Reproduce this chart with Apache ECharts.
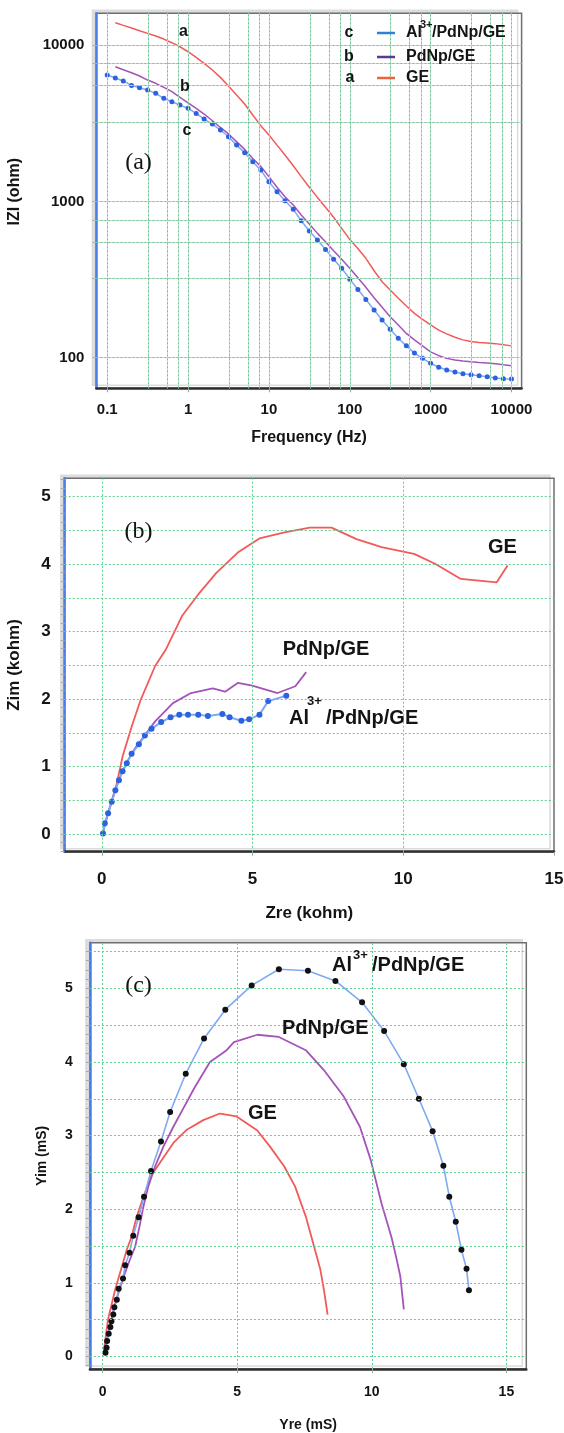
<!DOCTYPE html>
<html>
<head>
<meta charset="utf-8">
<script src="https://cdn.jsdelivr.net/npm/echarts@6/dist/echarts.min.js"></script>
<style>
  html, body { margin: 0; padding: 0; background: #ffffff; }
  #chart { width: 564px; height: 1433px; }
</style>
</head>
<body>
<div id="chart"></div>
<script>
// ---------- (a) Bode magnitude: |Z| vs frequency ----------
const freq = [0.1, 0.126, 0.158, 0.2, 0.251, 0.316, 0.398, 0.501, 0.631, 0.794,
  1, 1.26, 1.58, 2, 2.51, 3.16, 3.98, 5.01, 6.31, 7.94,
  10, 12.6, 15.8, 20, 25.1, 31.6, 39.8, 50.1, 63.1, 79.4,
  100, 126, 158, 200, 251, 316, 398, 501, 631, 794,
  1000, 1260, 1580, 2000, 2510, 3160, 3980, 5010, 6310, 7940, 10000];
const zModAl = [6430, 6150, 5890, 5520, 5330, 5150, 4910, 4560, 4340, 4130,
  3940, 3650, 3360, 3120, 2860, 2590, 2290, 2050, 1790, 1585,
  1335, 1150, 1010, 889, 752, 646, 566, 493, 426, 373,
  318, 273, 236, 202, 174, 152, 133, 119, 107, 99,
  92, 86.8, 83.4, 80.9, 79.0, 77.9, 76.7, 75.5, 74.1, 73.4, 73.1];
const zModPd = [null, 7270, 6950, 6650, 6340, 5970, 5690, 5360, 5030, 4620,
  4270, 3940, 3620, 3280, 2970, 2700, 2410, 2150, 1880, 1670,
  1440, 1230, 1070, 948, 818, 716, 624, 552, 483, 426,
  373, 325, 282, 242, 210, 183, 162, 143, 130, 119,
  109, 103, 99, 96.6, 95.2, 94.2, 93.3, 92.5, 91.6, 90.2, 88.9];
const zModGE = [null, 13900, 13360, 12850, 12350, 11880, 11420, 10920, 10350, 9750,
  9060, 8340, 7630, 6920, 6210, 5470, 4790, 4200, 3570, 3050,
  2660, 2290, 1980, 1690, 1440, 1230, 1060, 916, 791, 672,
  571, 500, 432, 360, 306, 271, 240, 214, 192, 176,
  162, 150, 142, 135, 130, 127, 125, 124, 123, 121, 119];
const freqTicks = [0.1, 1, 10, 100, 1000, 10000];
const zModTicks = [100, 1000, 10000];
const freqGrid = [0.1, 0.32, 0.55, 0.76, 1, 3.2, 5.5, 7.6, 10, 32, 55, 76, 100, 320, 550, 760, 1000, 3200, 5500, 7600, 10000];
const zModGrid = [100, 320, 550, 760, 1000, 3200, 5500, 7600, 10000];

// ---------- (b) Nyquist: Zim vs Zre (kohm) ----------
const zreGE = [0.04, 0.21, 0.45, 0.69, 0.99, 1.29, 1.77, 2.12, 2.66, 3.20, 3.80, 4.51, 5.23, 6.06, 6.90, 7.62, 8.45, 9.28, 10.36, 11.07, 11.91, 13.10, 13.46];
const zimGE = [0.03, 0.31, 0.65, 1.15, 1.59, 1.99, 2.49, 2.73, 3.23, 3.55, 3.87, 4.17, 4.38, 4.47, 4.54, 4.54, 4.37, 4.25, 4.15, 4.00, 3.78, 3.73, 3.98];
const zrePd = [0.03, 0.20, 0.40, 0.60, 0.85, 1.10, 1.40, 1.77, 2.36, 2.96, 3.68, 4.09, 4.51, 4.99, 5.83, 6.42, 6.78];
const zimPd = [0.02, 0.30, 0.60, 0.84, 1.08, 1.27, 1.45, 1.67, 1.94, 2.09, 2.16, 2.11, 2.24, 2.20, 2.09, 2.19, 2.40];
const zreAl = [0.04, 0.10, 0.21, 0.33, 0.45, 0.57, 0.69, 0.83, 0.99, 1.23, 1.43, 1.65, 1.97, 2.28, 2.57, 2.86, 3.20, 3.52, 4.00, 4.24, 4.63, 4.89, 5.23, 5.52, 6.12];
const zimAl = [0.01, 0.16, 0.31, 0.48, 0.65, 0.80, 0.93, 1.05, 1.19, 1.33, 1.46, 1.56, 1.66, 1.73, 1.77, 1.77, 1.77, 1.75, 1.78, 1.73, 1.68, 1.70, 1.77, 1.97, 2.05];
const zreTicks = [0, 5, 10, 15];
const zimTicks = [0, 1, 2, 3, 4, 5];
const zreGrid = [0, 5, 10];
const zimGrid = [0, 0.5, 1, 1.5, 2, 2.5, 3, 3.5, 4, 4.5, 5];

// ---------- (c) Admittance: Yim vs Yre (mS) ----------
const yreGE = [0.04, 0.20, 0.47, 0.70, 0.90, 1.08, 1.27, 1.52, 1.83, 2.20, 2.63, 3.13, 3.74, 4.36, 4.98, 5.75, 6.22, 6.75, 7.15, 7.55, 7.89, 8.09, 8.22, 8.36];
const yimGE = [0.05, 0.50, 0.91, 1.20, 1.45, 1.63, 1.90, 2.17, 2.47, 2.67, 2.90, 3.08, 3.21, 3.30, 3.26, 3.07, 2.85, 2.58, 2.31, 1.90, 1.45, 1.18, 0.91, 0.57];
const yrePd = [0.03, 0.20, 0.45, 0.75, 1.00, 1.21, 1.37, 1.52, 1.70, 1.95, 2.26, 2.63, 3.00, 3.43, 3.99, 4.61, 4.88, 5.75, 6.55, 7.55, 8.22, 8.96, 9.56, 9.96, 10.36, 10.74, 10.90, 11.06, 11.19];
const yimPd = [0.03, 0.30, 0.70, 1.05, 1.30, 1.49, 1.76, 2.04, 2.31, 2.58, 2.85, 3.12, 3.37, 3.66, 4.00, 4.16, 4.27, 4.37, 4.34, 4.16, 3.89, 3.53, 3.12, 2.67, 2.08, 1.61, 1.36, 1.09, 0.64];
const yreAl = [0.11, 0.15, 0.17, 0.23, 0.29, 0.33, 0.40, 0.44, 0.53, 0.60, 0.76, 0.84, 1.00, 1.14, 1.34, 1.54, 1.80, 2.17, 2.51, 3.09, 3.77, 4.56, 5.54, 6.55, 7.63, 8.65, 9.64, 10.46, 11.19, 11.75, 12.26, 12.66, 12.88, 13.12, 13.33, 13.52, 13.61];
const yimAl = [0.05, 0.12, 0.21, 0.31, 0.40, 0.48, 0.57, 0.67, 0.77, 0.92, 1.06, 1.24, 1.41, 1.64, 1.89, 2.17, 2.52, 2.92, 3.32, 3.84, 4.32, 4.71, 5.04, 5.26, 5.24, 5.10, 4.81, 4.42, 3.97, 3.50, 3.06, 2.59, 2.17, 1.83, 1.45, 1.19, 0.90];
const yreTicks = [0, 5, 10, 15];
const yimTicks = [0, 1, 2, 3, 4, 5];
const yreGrid = [0, 5, 10, 15];
const yimGrid = [0, 0.5, 1, 1.5, 2, 2.5, 3, 3.5, 4, 4.5, 5, 5.5];

// ---------- helpers ----------
const FONT = "'Liberation Sans', Arial, sans-serif";
const SERIF = "'Liberation Serif', 'Times New Roman', serif";
const INK = '#141414';
const RED = '#f25a5a', PURPLE = '#a453b8', BLUE_LINE = '#7fa9f2', BLUE_DOT = '#2c62df';

function pairs(xs, ys) {
  const out = [];
  for (let i = 0; i < xs.length; i++) if (ys[i] != null) out.push([xs[i], ys[i]]);
  return out;
}
function steps(from, to, step) {
  const out = [];
  for (let v = from; v <= to + 1e-9; v += step) out.push(+v.toFixed(4));
  return out;
}
function gridLines(idx, xs, ys, style, z) {
  return {
    type: 'line', xAxisIndex: idx, yAxisIndex: idx, data: [], z: z, silent: true,
    markLine: {
      silent: true, symbol: ['none', 'none'], label: { show: false }, animation: false,
      lineStyle: style,
      data: xs.map(v => ({ xAxis: v })).concat(ys.map(v => ({ yAxis: v })))
    }
  };
}
const greenDot = { color: '#5fcf8f', type: [2, 2], width: 1 };
const greySolid = { color: '#d9d9d9', type: 'solid', width: 1 };

function gridBox(left, top, width, height) {
  return {
    left, top, width, height, show: true, backgroundColor: '#ffffff',
    borderColor: '#6e6e6e', borderWidth: 1.5,
    shadowColor: '#dcdcdc', shadowBlur: 0, shadowOffsetX: -4, shadowOffsetY: -3,
    containLabel: false, outerBoundsMode: 'none'
  };
}
function numLabel(v) {
  const n = Number(v);
  return n >= 1 ? String(Math.round(n)) : String(+n.toPrecision(2));
}
function xAxisCfg(idx, opts) {
  return Object.assign({
    gridIndex: idx, type: 'value', nameLocation: 'middle',
    axisLine: { show: true, onZero: false, lineStyle: { color: '#2f2f2f', width: 2.5 } },
    axisTick: { show: true, inside: false, length: 4, lineStyle: { color: '#a0a0a0' } },
    splitLine: { show: false }
  }, opts);
}
function yAxisCfg(idx, opts) {
  return Object.assign({
    gridIndex: idx, type: 'value', nameLocation: 'middle',
    axisLine: { show: true, onZero: false, lineStyle: { color: '#4a7fe8', width: 2.5 } },
    axisTick: { show: true, inside: false, length: 4, lineStyle: { color: '#a0a0a0' } },
    splitLine: { show: false }
  }, opts);
}
function label(size, margin, values) {
  return { customValues: values, fontFamily: FONT, fontWeight: 'bold', fontSize: size, color: INK, margin: margin, formatter: numLabel, showMinLabel: true, showMaxLabel: true };
}
function nameStyle(size) {
  return { fontFamily: FONT, fontWeight: 'bold', fontSize: size, color: INK };
}

// text annotations
function text(x, y, str, font, align) {
  return { type: 'text', x, y, z: 100, silent: true,
    style: { text: str, font: font, fill: INK, align: align || 'center', verticalAlign: 'middle' } };
}
// "Al3+/PdNp/GE" with a raised "3+"
function alLabel(x, y, size, supSize, supX, supY, restX) {
  return [
    text(x, y, 'Al', 'bold ' + size + 'px ' + FONT, 'left'),
    text(supX, supY, '3+', 'bold ' + supSize + 'px ' + FONT, 'left'),
    text(restX, y, '/PdNp/GE', 'bold ' + size + 'px ' + FONT, 'left')
  ];
}
function swatch(x1, x2, y, color) {
  return { type: 'line', z: 100, silent: true, shape: { x1, y1: y, x2, y2: y }, style: { stroke: color, lineWidth: 2.5 } };
}

const chart = echarts.init(document.getElementById('chart'), null, { renderer: 'canvas' });

const option = {
  animation: false,
  backgroundColor: '#ffffff',
  grid: [
    gridBox(96.4, 13.3, 425.2, 375),
    gridBox(64.7, 478.3, 489.3, 373.4),
    gridBox(89.9, 942.7, 436.4, 426.3)
  ],
  xAxis: [
    xAxisCfg(0, { type: 'log', logBase: 10, min: 0.0735, max: 13340,
      name: 'Frequency (Hz)', nameGap: 41, nameTextStyle: nameStyle(16),
      axisTick: { show: true, length: 4, customValues: freqTicks, lineStyle: { color: '#a0a0a0' } },
      axisLabel: label(15, 14, freqTicks) }),
    xAxisCfg(1, { min: -1.23, max: 15,
      name: 'Zre (kohm)', nameGap: 53, nameTextStyle: nameStyle(17),
      axisTick: { show: true, length: 4, customValues: zreTicks, lineStyle: { color: '#a0a0a0' } },
      axisLabel: label(17, 19, zreTicks) }),
    xAxisCfg(2, { min: -0.47, max: 15.74,
      name: 'Yre (mS)', nameGap: 49, nameTextStyle: nameStyle(14),
      axisTick: { show: true, length: 4, customValues: yreTicks, lineStyle: { color: '#a0a0a0' } },
      axisLabel: label(14, 16, yreTicks) })
  ],
  yAxis: [
    yAxisCfg(0, { type: 'log', logBase: 10, min: 63.7, max: 15960,
      name: 'IZI (ohm)', nameGap: 74, nameTextStyle: Object.assign(nameStyle(16), { padding: [0, 0, 0, 18] }),
      axisTick: { show: true, length: 4, customValues: zModGrid, lineStyle: { color: '#b0b0b0' } },
      axisLabel: label(15, 12, zModTicks) }),
    yAxisCfg(1, { min: -0.26, max: 5.27,
      name: 'Zim (kohm)', nameGap: 42, nameTextStyle: nameStyle(17),
      axisTick: { show: true, length: 4, customValues: steps(-0.25, 5.25, 0.125), lineStyle: { color: '#a8a8a8' } },
      axisLabel: label(17, 14, zimTicks) }),
    yAxisCfg(2, { min: -0.17, max: 5.62,
      name: 'Yim (mS)', nameGap: 41, nameTextStyle: nameStyle(14),
      axisTick: { show: true, length: 4, customValues: steps(-0.125, 5.5, 0.125), lineStyle: { color: '#a8a8a8' } },
      axisLabel: label(14, 17, yimTicks) })
  ],
  series: [
    // grid lines
    gridLines(0, freqGrid, zModGrid, greySolid, 1),
    gridLines(0, freqGrid, zModGrid, greenDot, 2),
    gridLines(1, zreGrid, zimGrid, greenDot, 2),
    gridLines(2, yreGrid, yimGrid, greenDot, 2),

    // (a)
    { name: 'GE', type: 'line', xAxisIndex: 0, yAxisIndex: 0, z: 3, data: pairs(freq, zModGE),
      showSymbol: false, lineStyle: { color: RED, width: 1.5 } },
    { name: 'PdNp/GE', type: 'line', xAxisIndex: 0, yAxisIndex: 0, z: 3, data: pairs(freq, zModPd),
      showSymbol: false, lineStyle: { color: PURPLE, width: 1.5 } },
    { name: 'Al3+/PdNp/GE', type: 'line', xAxisIndex: 0, yAxisIndex: 0, z: 4, data: pairs(freq, zModAl),
      symbol: 'circle', symbolSize: 5, showAllSymbol: true,
      itemStyle: { color: BLUE_DOT }, lineStyle: { color: BLUE_LINE, width: 1.5 } },

    // (b)
    { name: 'GE', type: 'line', xAxisIndex: 1, yAxisIndex: 1, z: 3, data: pairs(zreGE, zimGE),
      showSymbol: false, lineStyle: { color: RED, width: 1.8 } },
    { name: 'PdNp/GE', type: 'line', xAxisIndex: 1, yAxisIndex: 1, z: 3, data: pairs(zrePd, zimPd),
      showSymbol: false, lineStyle: { color: PURPLE, width: 1.8 } },
    { name: 'Al3+/PdNp/GE', type: 'line', xAxisIndex: 1, yAxisIndex: 1, z: 4, data: pairs(zreAl, zimAl),
      symbol: 'circle', symbolSize: 6, showAllSymbol: true,
      itemStyle: { color: BLUE_DOT }, lineStyle: { color: BLUE_LINE, width: 2 } },

    // (c)
    { name: 'GE', type: 'line', xAxisIndex: 2, yAxisIndex: 2, z: 3, data: pairs(yreGE, yimGE),
      showSymbol: false, lineStyle: { color: RED, width: 1.8 } },
    { name: 'PdNp/GE', type: 'line', xAxisIndex: 2, yAxisIndex: 2, z: 3, data: pairs(yrePd, yimPd),
      showSymbol: false, lineStyle: { color: PURPLE, width: 1.8 } },
    { name: 'Al3+/PdNp/GE', type: 'line', xAxisIndex: 2, yAxisIndex: 2, z: 4, data: pairs(yreAl, yimAl),
      symbol: 'circle', symbolSize: 6, showAllSymbol: true,
      itemStyle: { color: '#111111' }, lineStyle: { color: BLUE_LINE, width: 1.6 } }
  ],
  graphic: [].concat(
    [
      // (a) curve letters and panel tag
      text(183.5, 32, 'a', 'bold 16px ' + FONT),
      text(185, 87, 'b', 'bold 16px ' + FONT),
      text(187, 131, 'c', 'bold 16px ' + FONT),
      text(138.5, 163, '(a)', '24px ' + SERIF),
      // (a) legend
      text(349, 33, 'c', 'bold 16px ' + FONT),
      text(349, 57, 'b', 'bold 16px ' + FONT),
      text(350, 78, 'a', 'bold 16px ' + FONT),
      swatch(377, 395, 33, '#2f80d8'),
      swatch(377, 395, 57, '#5a3a92'),
      swatch(377, 395, 78, '#f0623c'),
      text(406, 57, 'PdNp/GE', 'bold 16px ' + FONT, 'left'),
      text(406, 78, 'GE', 'bold 16px ' + FONT, 'left')
    ],
    alLabel(406, 33, 16, 11, 420, 25, 432),
    [
      // (b)
      text(138.5, 532, '(b)', '24px ' + SERIF),
      text(502.5, 547, 'GE', 'bold 20px ' + FONT),
      text(326, 649, 'PdNp/GE', 'bold 20px ' + FONT)
    ],
    alLabel(289, 718, 20, 13, 307, 701, 326),
    [
      // (c)
      text(138.5, 986, '(c)', '24px ' + SERIF),
      text(282, 1028, 'PdNp/GE', 'bold 20px ' + FONT, 'left'),
      text(248, 1113, 'GE', 'bold 20px ' + FONT, 'left')
    ],
    alLabel(332, 965, 20, 13, 353, 955, 372)
  )
};

chart.setOption(option);
</script>
</body>
</html>
